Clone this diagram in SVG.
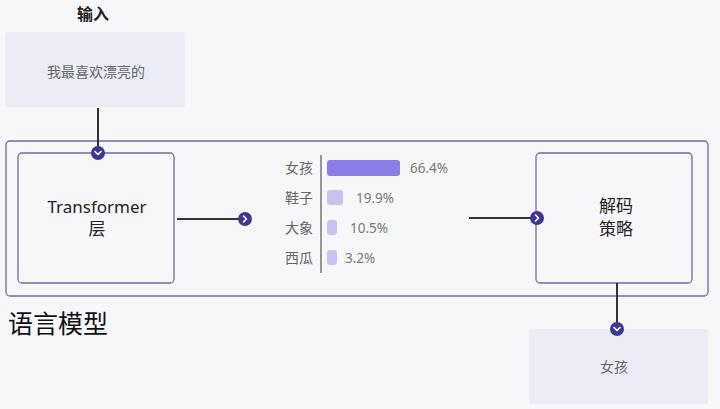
<svg xmlns="http://www.w3.org/2000/svg" width="720" height="409" viewBox="0 0 720 409">
<style>
.t{font-family:"Noto Sans","Noto Sans CJK SC",sans-serif;}
.frame{fill:none;stroke:#6e6aa3;stroke-width:1.3;}
.soft{fill:#ececf6;}
.line{stroke:#333;stroke-width:2;fill:none;}
.dot{fill:#3b3792;}
.chev{fill:none;stroke:#fff;stroke-width:1.6;stroke-linecap:round;stroke-linejoin:round;}
.lab{font-size:14px;fill:#666;}
.pct{font-size:13.5px;fill:#777;}
.big{font-size:17px;fill:#222;}
</style>
<rect width="720" height="409" fill="#f7f7f9"/>
<g id="outer-model">
<rect class="frame" x="6" y="141" width="702" height="155" rx="4"/>
<text class="t" x="8" y="333" font-size="25" fill="#111">语言模型</text>
</g>
<g id="input">
<text class="t" x="93" y="20" font-size="16" font-weight="bold" fill="#222" text-anchor="middle">输入</text>
<rect class="soft" x="5" y="32" width="180" height="75" rx="3"/>
<text class="t lab" x="96" y="77" text-anchor="middle">我最喜欢漂亮的</text>
</g>
<g id="transformer">
<rect class="frame" x="18" y="153" width="156" height="130" rx="4"/>
<text class="t big" x="97" y="213" text-anchor="middle">Transformer</text>
<text class="t big" x="97" y="235" text-anchor="middle">层</text>
</g>
<g id="chart">
<line x1="321" y1="155" x2="321" y2="273" stroke="#555" stroke-width="1.2"/>
<text class="t lab" x="299" y="173" text-anchor="middle">女孩</text>
<text class="t lab" x="299" y="203" text-anchor="middle">鞋子</text>
<text class="t lab" x="299" y="233" text-anchor="middle">大象</text>
<text class="t lab" x="299" y="263" text-anchor="middle">西瓜</text>
<rect x="327" y="160" width="73" height="16" rx="3" fill="#8a7ee6"/>
<rect x="327" y="190" width="16" height="15" rx="3" fill="#c9c2f1"/>
<rect x="327" y="220" width="10" height="15" rx="3" fill="#c9c2f1"/>
<rect x="327" y="250" width="10" height="15" rx="3" fill="#c9c2f1"/>
<text class="t pct" x="410" y="173">66.4%</text>
<text class="t pct" x="356" y="203">19.9%</text>
<text class="t pct" x="350" y="233">10.5%</text>
<text class="t pct" x="345" y="263">3.2%</text>
</g>
<g id="decode">
<rect class="frame" x="536" y="153" width="156" height="130" rx="4"/>
<text class="t big" x="616" y="212" text-anchor="middle">解码</text>
<text class="t big" x="616" y="235" text-anchor="middle">策略</text>
</g>
<g id="output">
<rect class="soft" x="529" y="329" width="179" height="75" rx="3"/>
<text class="t lab" x="614" y="372" text-anchor="middle">女孩</text>
</g>
<g id="connectors">
<line class="line" x1="98" y1="108" x2="98" y2="152"/>
<circle class="dot" cx="98" cy="153" r="7"/>
<polyline class="chev" points="95,151.5 98,154.5 101,151.5"/>
<line class="line" x1="177" y1="219" x2="244" y2="219"/>
<circle class="dot" cx="245" cy="219" r="7"/>
<polyline class="chev" points="243.5,216 246.5,219 243.5,222"/>
<line class="line" x1="469" y1="218" x2="536" y2="218"/>
<circle class="dot" cx="537" cy="218" r="7"/>
<polyline class="chev" points="535.5,215 538.5,218 535.5,221"/>
<line class="line" x1="617" y1="283" x2="617" y2="328"/>
<circle class="dot" cx="617" cy="329" r="7"/>
<polyline class="chev" points="614,327.5 617,330.5 620,327.5"/>
</g>
</svg>
